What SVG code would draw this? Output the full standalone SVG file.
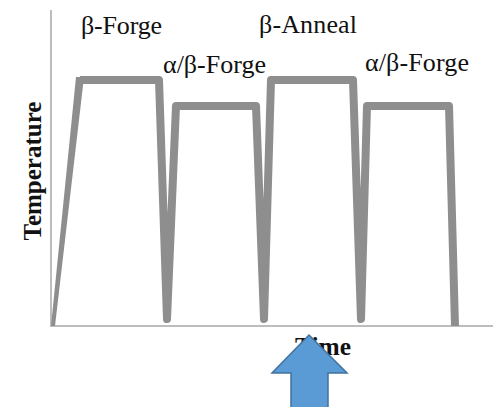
<svg xmlns="http://www.w3.org/2000/svg" width="493" height="407" viewBox="0 0 493 407">
<style>
.lbl{font-family:"Liberation Serif","Times New Roman",serif;font-size:26px;fill:#111;}
.ax{font-family:"Liberation Serif","Times New Roman",serif;font-size:25px;font-weight:bold;fill:#111;}
.axis{stroke:#bdbdbd;stroke-width:2;fill:none;}
.curve{stroke:#8e8e8e;stroke-width:8;fill:none;stroke-linejoin:round;stroke-linecap:butt;}
</style>
<rect width="493" height="407" fill="#ffffff"/>
<g id="axes">
<line class="axis" x1="51" y1="10" x2="51" y2="327"/>
<line class="axis" x1="50" y1="326" x2="493" y2="326"/>
</g>
<g id="profile">
<polygon points="51,326 55,326 84,77 76,77" fill="#8e8e8e"/>
<polyline class="curve" points="80,80 159,80 167,319 176,106 256,106 264,319 271,80 353,80 361,319 367,106 449,106 455,326"/>
</g>
<g id="labels">
<text class="lbl" x="81" y="34" textLength="81" lengthAdjust="spacing">β-Forge</text>
<text class="lbl" x="163" y="73" textLength="103" lengthAdjust="spacing">α/β-Forge</text>
<text class="lbl" x="259" y="33" textLength="98" lengthAdjust="spacing">β-Anneal</text>
<text class="lbl" x="365" y="71" textLength="104" lengthAdjust="spacing">α/β-Forge</text>
<text class="ax" transform="translate(41,171) rotate(-90)" text-anchor="middle">Temperature</text>
<text class="ax" x="295" y="355" textLength="56" lengthAdjust="spacingAndGlyphs">Time</text>
</g>
<g id="arrow">
<polygon points="309,335 347,373 328,373 328,410 291,410 291,373 272,373" fill="#5b9bd5" stroke="#41719c" stroke-width="1.5" stroke-linejoin="miter"/>
</g>
</svg>
